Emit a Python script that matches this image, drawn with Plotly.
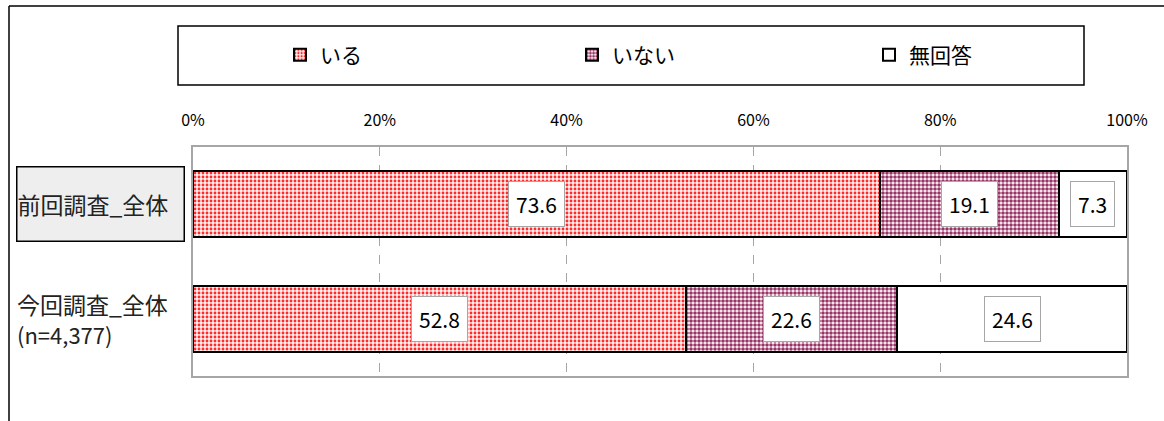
import plotly.graph_objects as go

# Survey results (%), one stacked bar per survey
categories = ["前回調査_全体", "今回調査_全体"]
iru = [73.6, 52.8]        # いる
inai = [19.1, 22.6]       # いない
mukaito = [7.3, 24.6]     # 無回答
tick_vals = [0, 20, 40, 60, 80, 100]
tick_text = ["0%", "20%", "40%", "60%", "80%", "100%"]

W, H = 1164, 421
ML, MR, MT, MB = 193, 37, 147, 45
PW, PH = W - ML - MR, H - MT - MB

FONT = "Noto Sans CJK JP"


def px_x(p):
    return (p - ML) / PW


def px_y(p):
    return 1 - (p - MT) / PH


fig = go.Figure()

series = [
    ("いる", iru, dict(shape=".", fgcolor="#ff2a2a", bgcolor="#fff0f0", size=4, solidity=0.4)),
    ("いない", inai, dict(shape=".", fgcolor="#993366", bgcolor="#ffffff", size=4, solidity=0.65)),
    ("無回答", mukaito, None),
]
legend_ids = ["legend", "legend2", "legend3"]
legend_left_px = [280, 572, 869]

for (name, vals, pat), lg in zip(series, legend_ids):
    marker = dict(color="#ffffff", line=dict(color="#000000", width=2))
    if pat:
        marker["pattern"] = dict(fillmode="replace", **pat)
    fig.add_trace(go.Bar(
        name=name, y=categories, x=vals, orientation="h",
        marker=marker, hoverinfo="skip", legend=lg,
    ))

# value labels in white boxes at segment centres
annotations = []
for i, cat in enumerate(categories):
    start = 0.0
    for _, vals, _ in series:
        v = vals[i]
        annotations.append(dict(
            x=start + v / 2, y=cat, xref="x", yref="y",
            text=f"{v:.1f}", showarrow=False,
            font=dict(family=FONT, size=21, color="#000000"),
            bgcolor="#ffffff", bordercolor="#a6a6a6", borderwidth=1, borderpad=7,
        ))
        start += v

# category labels on the left
annotations.append(dict(
    x=px_x(16), xref="paper", xanchor="left",
    y=categories[0], yref="y", yanchor="middle",
    text=categories[0], showarrow=False, align="left",
    width=166, height=73, borderpad=0,
    font=dict(family=FONT, size=23, color="#222222"),
    bgcolor="#eeeeee", bordercolor="#000000", borderwidth=1.5,
))
annotations.append(dict(
    x=px_x(15), xref="paper", xanchor="left",
    y=categories[1], yref="y", yanchor="middle",
    text=categories[1] + "<br><span style='font-size:22px'>(n=4,377)</span>",
    showarrow=False, align="left",
    font=dict(family=FONT, size=23, color="#222222"),
))

shapes = [
    # legend frame
    dict(type="rect", xref="paper", yref="paper",
         x0=px_x(178), x1=px_x(1084), y0=px_y(85), y1=px_y(26),
         line=dict(color="#000000", width=1.5), fillcolor="rgba(0,0,0,0)", layer="below"),
    # outer chart frame (top and left edges)
    dict(type="line", xref="paper", yref="paper",
         x0=px_x(9), x1=px_x(1164), y0=px_y(6), y1=px_y(6),
         line=dict(color="#000000", width=1.5)),
    dict(type="line", xref="paper", yref="paper",
         x0=px_x(9), x1=px_x(9), y0=px_y(6), y1=px_y(421),
         line=dict(color="#000000", width=1.5)),
]

legend_style = dict(
    orientation="h", xanchor="left", y=px_y(55), yanchor="middle",
    font=dict(family=FONT, size=21, color="#000000"),
    bgcolor="rgba(0,0,0,0)",
)

fig.update_layout(
    width=W, height=H,
    margin=dict(l=ML, r=MR, t=MT, b=MB),
    paper_bgcolor="#ffffff", plot_bgcolor="#ffffff",
    barmode="stack", bargap=0.42,
    font=dict(family=FONT, color="#000000"),
    showlegend=True,
    legend=dict(x=px_x(legend_left_px[0]), **legend_style),
    legend2=dict(x=px_x(legend_left_px[1]), **legend_style),
    legend3=dict(x=px_x(legend_left_px[2]), **legend_style),
    xaxis=dict(
        side="top", range=[0, 100], tickvals=tick_vals, ticktext=tick_text,
        tickfont=dict(family=FONT, size=16, color="#000000"),
        ticks="", ticklabelstandoff=13,
        showgrid=True, gridcolor="#a6a6a6", griddash="dash", gridwidth=1,
        showline=True, linecolor="#a6a6a6", linewidth=2, mirror=True,
        zeroline=False, fixedrange=True,
    ),
    yaxis=dict(
        categoryorder="array", categoryarray=categories, autorange="reversed",
        showticklabels=False, ticks="", showgrid=False,
        showline=True, linecolor="#a6a6a6", linewidth=2, mirror=True,
        zeroline=False, fixedrange=True,
    ),
    annotations=annotations,
    shapes=shapes,
)

fig.write_html("out.html")
